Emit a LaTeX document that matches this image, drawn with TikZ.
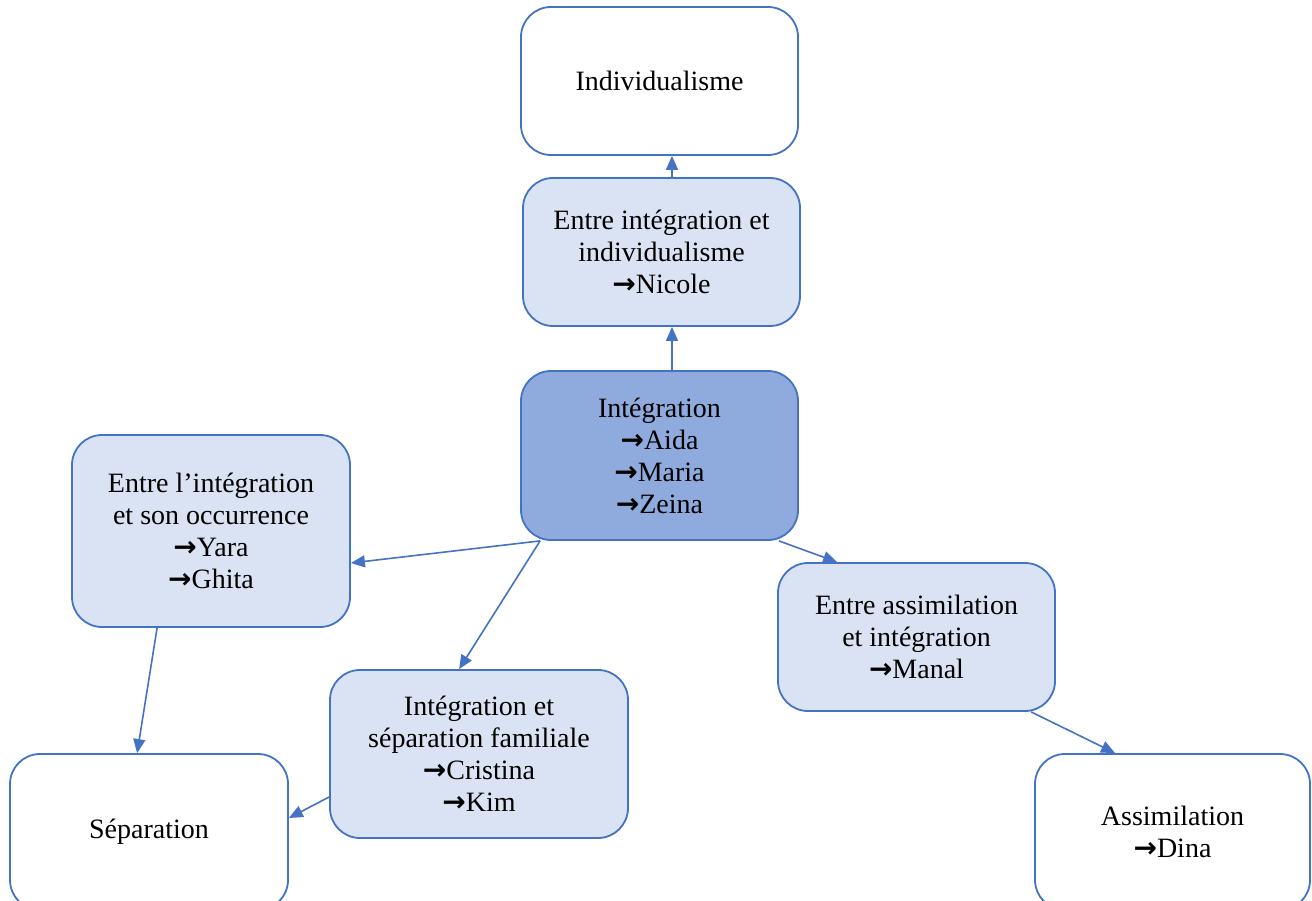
\documentclass[tikz,border=0pt]{standalone}
\usepackage{fontspec}
\setmainfont{Liberation Serif}
\newfontfamily\symfont{DejaVu Sans}
\usetikzlibrary{arrows.meta,calc}
\newcommand{\rarr}{{\symfont\bfseries →}}
\definecolor{edge}{HTML}{4472C4}
\definecolor{lightfill}{HTML}{DAE3F3}
\definecolor{darkfill}{HTML}{8FAADC}
\begin{document}
\begin{tikzpicture}[x=1pt,y=-1pt,
  box/.style={draw=edge,line width=1.8pt,rounded corners=30pt,align=center,
    font=\fontsize{28}{32}\selectfont,inner sep=0pt},
  whitebox/.style={box,fill=white},
  lightbox/.style={box,fill=lightfill},
  darkbox/.style={box,fill=darkfill},
  arr/.style={draw=edge,line width=1.6pt,-{Triangle[length=14pt,width=12pt]}}]
\useasboundingbox (0,0) rectangle (1312,901);
\node[whitebox,minimum width=277pt,minimum height=148pt] (ind) at (659.5,81) {Individualisme};
\node[lightbox,minimum width=277pt,minimum height=148pt] (nic) at (661.5,252) {Entre intégration et\\individualisme\\\rarr Nicole};
\node[darkbox,minimum width=277pt,minimum height=169pt] (int) at (659.5,455.5) {Intégration\\\rarr Aida\\\rarr Maria\\\rarr Zeina};
\node[lightbox,minimum width=278pt,minimum height=192pt] (left) at (211,531) {Entre l’intégration\\et son occurrence\\\rarr Yara\\\rarr Ghita};
\node[lightbox,minimum width=298pt,minimum height=168pt] (sep2) at (479,754) {Intégration et\\séparation familiale\\\rarr Cristina\\\rarr Kim};
\node[lightbox,minimum width=277pt,minimum height=148pt] (asm1) at (916.5,637) {Entre assimilation\\et intégration\\\rarr Manal};
\node[whitebox,minimum width=278pt,minimum height=156pt] (sep) at (149,832) {Séparation};
\node[whitebox,minimum width=275pt,minimum height=156pt] (asm) at (1172.5,832) {Assimilation\\\rarr Dina};
\draw[arr] ($(nic.north)+(10.5,0)$) -- ($(ind.south)+(12.5,0)$);
\draw[arr] ($(int.north)+(12.5,0)$) -- ($(nic.south)+(10.5,0)$);
\draw[arr] ($(int.south west)+(20,0)$) -- ($(left.east)+(0,32)$);
\draw[arr] ($(int.south west)+(20,0)$) -- ($(sep2.north west)+(130,0)$);
\draw[arr] ($(int.south east)+(-20,0)$) -- ($(asm1.north west)+(60,0)$);
\draw[arr] ($(left.south west)+(86,0)$) -- ($(sep.north west)+(128,0)$);
\draw[arr] ($(sep2.west)+(0,43)$) -- ($(sep.east)+(0,-14)$);
\draw[arr] ($(asm1.south west)+(254,0)$) -- ($(asm.north west)+(81,0)$);
\end{tikzpicture}
\end{document}
